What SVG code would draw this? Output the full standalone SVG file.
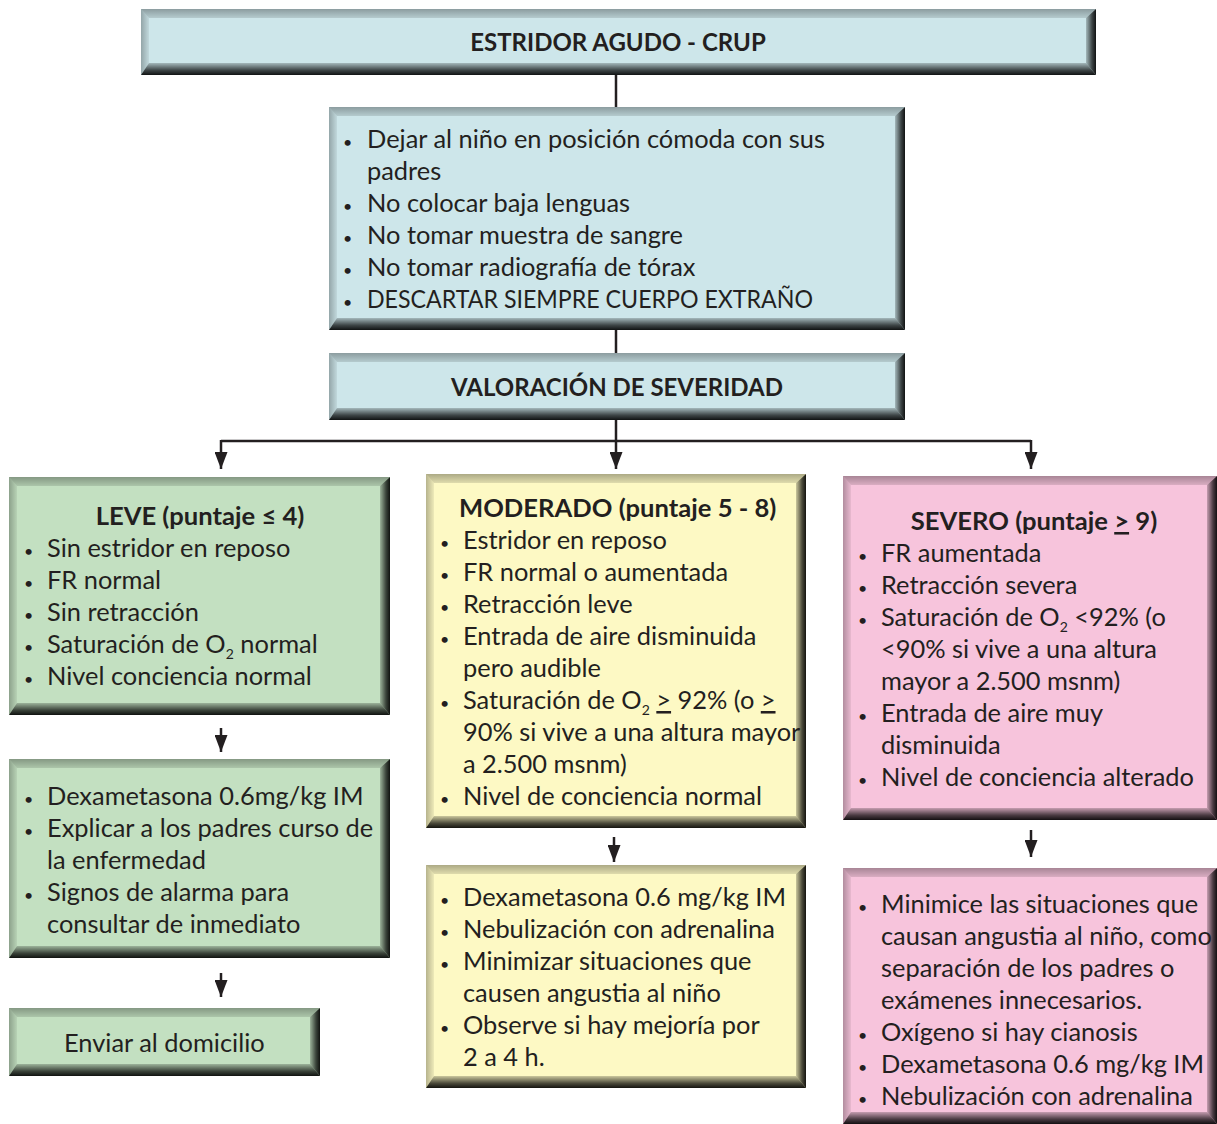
<svg xmlns="http://www.w3.org/2000/svg" width="1217" height="1124" viewBox="0 0 1217 1124">
<defs>
<linearGradient id="gT" x1="0" y1="0" x2="0" y2="1"><stop offset="0" stop-color="#000" stop-opacity="0.32"/><stop offset="1" stop-color="#000" stop-opacity="0.12"/></linearGradient>
<linearGradient id="gL" x1="0" y1="0" x2="1" y2="0"><stop offset="0" stop-color="#000" stop-opacity="0.28"/><stop offset="1" stop-color="#000" stop-opacity="0.06"/></linearGradient>
<linearGradient id="gB" x1="0" y1="0" x2="0" y2="1"><stop offset="0" stop-color="#000" stop-opacity="0.2"/><stop offset="0.6" stop-color="#000" stop-opacity="0.7"/><stop offset="1" stop-color="#000" stop-opacity="0.92"/></linearGradient>
<linearGradient id="gR" x1="0" y1="0" x2="1" y2="0"><stop offset="0" stop-color="#000" stop-opacity="0.2"/><stop offset="0.6" stop-color="#000" stop-opacity="0.7"/><stop offset="1" stop-color="#000" stop-opacity="0.92"/></linearGradient>
<marker id="ah" viewBox="0 0 17 13" refX="17" refY="6.5" markerUnits="userSpaceOnUse" markerWidth="17" markerHeight="13" orient="auto"><path d="M0,0 L17,6.5 L0,13 z" fill="#231f20"/></marker>
</defs>
<style>
.blue{fill:#cde6ea}.green{fill:#c3e0c1}.yellow{fill:#fdf9c4}.pink{fill:#f7c4dc}
.bt{fill:url(#gT)}.bl{fill:url(#gL)}.bb{fill:url(#gB)}.br{fill:url(#gR)}
text{font-family:Lato,"Liberation Sans",sans-serif;font-size:25.4px;fill:#231f20}
.b{font-weight:bold;font-size:25.6px}
.caps{font-size:24px}
.c{text-anchor:middle}
.dot{font-size:16px}
.sub{font-size:14px}
.u{text-decoration:underline}
.con{stroke:#231f20;stroke-width:2.5;fill:none}
</style>
<g id="connectors">
<line class="con" x1="616" y1="75" x2="616" y2="107"/>
<line class="con" x1="616" y1="330" x2="616" y2="353"/>
<line class="con" x1="616" y1="420" x2="616" y2="469" marker-end="url(#ah)"/>
<line class="con" x1="221" y1="441" x2="1031" y2="441"/>
<line class="con" x1="221" y1="440" x2="221" y2="469" marker-end="url(#ah)"/>
<line class="con" x1="1031" y1="440" x2="1031" y2="469" marker-end="url(#ah)"/>
<line class="con" x1="221" y1="728" x2="221" y2="752" marker-end="url(#ah)"/>
<line class="con" x1="221" y1="973" x2="221" y2="997" marker-end="url(#ah)"/>
<line class="con" x1="614" y1="837" x2="614" y2="862" marker-end="url(#ah)"/>
<line class="con" x1="1031" y1="830" x2="1031" y2="857" marker-end="url(#ah)"/>
</g>
<g id="n-top">
<rect class="blue" x="141" y="9" width="955" height="66"/>
<polygon class="bt" points="141,9 1096,9 1086,18 149,18"/>
<polygon class="bl" points="141,9 149,18 149,63 141,75"/>
<polygon class="bb" points="141,75 149,63 1086,63 1096,75"/>
<polygon class="br" points="1096,9 1096,75 1086,63 1086,18"/>
<text class="b c caps" x="618" y="51">ESTRIDOR AGUDO - CRUP</text>
</g>
<g id="n-info">
<rect class="blue" x="329" y="107" width="576" height="223"/>
<polygon class="bt" points="329,107 905,107 895,116 337,116"/>
<polygon class="bl" points="329,107 337,116 337,318 329,330"/>
<polygon class="bb" points="329,330 337,318 895,318 905,330"/>
<polygon class="br" points="905,107 905,330 895,318 895,116"/>
<text class="dot" x="343" y="148">•</text><text x="367" y="148">Dejar al niño en posición cómoda con sus</text>
<text x="367" y="180">padres</text>
<text class="dot" x="343" y="212">•</text><text x="367" y="212">No colocar baja lenguas</text>
<text class="dot" x="343" y="244">•</text><text x="367" y="244">No tomar muestra de sangre</text>
<text class="dot" x="343" y="276">•</text><text x="367" y="276">No tomar radiografía de tórax</text>
<text class="dot" x="343" y="308">•</text><text x="367" y="308" textLength="446" lengthAdjust="spacingAndGlyphs">DESCARTAR SIEMPRE CUERPO EXTRAÑO</text>
</g>
<g id="n-val">
<rect class="blue" x="329" y="353" width="576" height="67"/>
<polygon class="bt" points="329,353 905,353 895,362 337,362"/>
<polygon class="bl" points="329,353 337,362 337,408 329,420"/>
<polygon class="bb" points="329,420 337,408 895,408 905,420"/>
<polygon class="br" points="905,353 905,420 895,408 895,362"/>
<text class="b c caps" x="617" y="396">VALORACIÓN DE SEVERIDAD</text>
</g>
<g id="n-leve">
<rect class="green" x="9" y="477" width="381" height="238"/>
<polygon class="bt" points="9,477 390,477 380,486 17,486"/>
<polygon class="bl" points="9,477 17,486 17,703 9,715"/>
<polygon class="bb" points="9,715 17,703 380,703 390,715"/>
<polygon class="br" points="390,477 390,715 380,703 380,486"/>
<text class="b c" x="200" y="525">LEVE (puntaje ≤ 4)</text>
<text class="dot" x="24" y="557">•</text><text x="47" y="557">Sin estridor en reposo</text>
<text class="dot" x="24" y="589">•</text><text x="47" y="589">FR normal</text>
<text class="dot" x="24" y="621">•</text><text x="47" y="621">Sin retracción</text>
<text class="dot" x="24" y="653">•</text><text x="47" y="653">Saturación de O<tspan class="sub" dy="6">2</tspan><tspan dy="-6"> normal</tspan></text>
<text class="dot" x="24" y="685">•</text><text x="47" y="685">Nivel conciencia normal</text>
</g>
<g id="n-leve-tx">
<rect class="green" x="9" y="759" width="381" height="199"/>
<polygon class="bt" points="9,759 390,759 380,768 17,768"/>
<polygon class="bl" points="9,759 17,768 17,946 9,958"/>
<polygon class="bb" points="9,958 17,946 380,946 390,958"/>
<polygon class="br" points="390,759 390,958 380,946 380,768"/>
<text class="dot" x="24" y="805">•</text><text x="47" y="805">Dexametasona 0.6mg/kg IM</text>
<text class="dot" x="24" y="837">•</text><text x="47" y="837">Explicar a los padres curso de</text>
<text x="47" y="869">la enfermedad</text>
<text class="dot" x="24" y="901">•</text><text x="47" y="901">Signos de alarma para</text>
<text x="47" y="933">consultar de inmediato</text>
</g>
<g id="n-enviar">
<rect class="green" x="9" y="1008" width="311" height="68"/>
<polygon class="bt" points="9,1008 320,1008 310,1017 17,1017"/>
<polygon class="bl" points="9,1008 17,1017 17,1064 9,1076"/>
<polygon class="bb" points="9,1076 17,1064 310,1064 320,1076"/>
<polygon class="br" points="320,1008 320,1076 310,1064 310,1017"/>
<text x="64" y="1052">Enviar al domicilio</text>
</g>
<g id="n-mod">
<rect class="yellow" x="426" y="474" width="380" height="354"/>
<polygon class="bt" points="426,474 806,474 796,483 434,483"/>
<polygon class="bl" points="426,474 434,483 434,816 426,828"/>
<polygon class="bb" points="426,828 434,816 796,816 806,828"/>
<polygon class="br" points="806,474 806,828 796,816 796,483"/>
<text class="b" x="459" y="517">MODERADO (puntaje 5 - 8)</text>
<text class="dot" x="440" y="549">•</text><text x="463" y="549">Estridor en reposo</text>
<text class="dot" x="440" y="581">•</text><text x="463" y="581">FR normal o aumentada</text>
<text class="dot" x="440" y="613">•</text><text x="463" y="613">Retracción leve</text>
<text class="dot" x="440" y="645">•</text><text x="463" y="645">Entrada de aire disminuida</text>
<text x="463" y="677">pero audible</text>
<text class="dot" x="440" y="709">•</text><text x="463" y="709">Saturación de O<tspan class="sub" dy="6">2</tspan><tspan dy="-6"> </tspan><tspan class="u">&gt;</tspan> 92% (o <tspan class="u">&gt;</tspan></text>
<text x="463" y="741">90% si vive a una altura mayor</text>
<text x="463" y="773">a 2.500 msnm)</text>
<text class="dot" x="440" y="805">•</text><text x="463" y="805">Nivel de conciencia normal</text>
</g>
<g id="n-mod-tx">
<rect class="yellow" x="426" y="865" width="380" height="223"/>
<polygon class="bt" points="426,865 806,865 796,874 434,874"/>
<polygon class="bl" points="426,865 434,874 434,1076 426,1088"/>
<polygon class="bb" points="426,1088 434,1076 796,1076 806,1088"/>
<polygon class="br" points="806,865 806,1088 796,1076 796,874"/>
<text class="dot" x="440" y="906">•</text><text x="463" y="906">Dexametasona 0.6 mg/kg IM</text>
<text class="dot" x="440" y="938">•</text><text x="463" y="938">Nebulización con adrenalina</text>
<text class="dot" x="440" y="970">•</text><text x="463" y="970">Minimizar situaciones que</text>
<text x="463" y="1002">causen angustia al niño</text>
<text class="dot" x="440" y="1034">•</text><text x="463" y="1034">Observe si hay mejoría por</text>
<text x="463" y="1066">2 a 4 h.</text>
</g>
<g id="n-sev">
<rect class="pink" x="843" y="476" width="374" height="344"/>
<polygon class="bt" points="843,476 1217,476 1207,485 851,485"/>
<polygon class="bl" points="843,476 851,485 851,808 843,820"/>
<polygon class="bb" points="843,820 851,808 1207,808 1217,820"/>
<polygon class="br" points="1217,476 1217,820 1207,808 1207,485"/>
<text class="b c" x="1034" y="530">SEVERO (puntaje <tspan class="u">&gt;</tspan> 9)</text>
<text class="dot" x="858" y="562">•</text><text x="881" y="562">FR aumentada</text>
<text class="dot" x="858" y="594">•</text><text x="881" y="594">Retracción severa</text>
<text class="dot" x="858" y="626">•</text><text x="881" y="626">Saturación de O<tspan class="sub" dy="6">2</tspan><tspan dy="-6"> &lt;92% (o</tspan></text>
<text x="881" y="658">&lt;90% si vive a una altura</text>
<text x="881" y="690">mayor a 2.500 msnm)</text>
<text class="dot" x="858" y="722">•</text><text x="881" y="722">Entrada de aire muy</text>
<text x="881" y="754">disminuida</text>
<text class="dot" x="858" y="786">•</text><text x="881" y="786">Nivel de conciencia alterado</text>
</g>
<g id="n-sev-tx">
<rect class="pink" x="843" y="868" width="374" height="256"/>
<polygon class="bt" points="843,868 1217,868 1207,877 851,877"/>
<polygon class="bl" points="843,868 851,877 851,1112 843,1124"/>
<polygon class="bb" points="843,1124 851,1112 1207,1112 1217,1124"/>
<polygon class="br" points="1217,868 1217,1124 1207,1112 1207,877"/>
<text class="dot" x="858" y="913">•</text><text x="881" y="913">Minimice las situaciones que</text>
<text x="881" y="945">causan angustia al niño, como</text>
<text x="881" y="977">separación de los padres o</text>
<text x="881" y="1009">exámenes innecesarios.</text>
<text class="dot" x="858" y="1041">•</text><text x="881" y="1041">Oxígeno si hay cianosis</text>
<text class="dot" x="858" y="1073">•</text><text x="881" y="1073">Dexametasona 0.6 mg/kg IM</text>
<text class="dot" x="858" y="1105">•</text><text x="881" y="1105">Nebulización con adrenalina</text>
</g>
</svg>
